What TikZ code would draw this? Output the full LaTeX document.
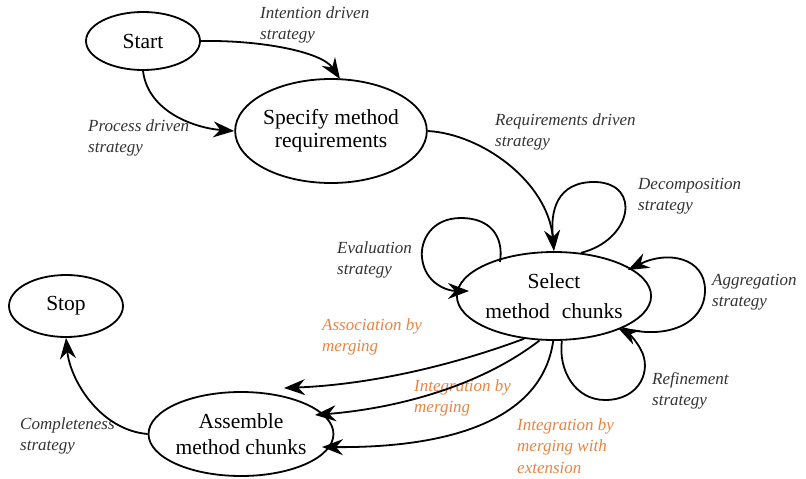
\documentclass[tikz,border=0pt]{standalone}
\usepackage{fontspec}
\setmainfont{Liberation Serif}
\usetikzlibrary{arrows.meta,shapes.geometric}
\definecolor{stratorange}{RGB}{232,132,66}
\tikzset{
  state/.style={draw,ellipse,line width=1.8pt,inner sep=0pt,align=center,
    font=\fontsize{21.5}{23}\selectfont},
  strat/.style={anchor=west,inner sep=0pt,align=left,text=black!80,
    font=\fontsize{17}{21.5}\selectfont\itshape},
  ostrat/.style={strat,text=stratorange},
  flow/.style={line width=1.8pt,-{Stealth[length=21pt,width=16pt,inset=7pt]}},
  plain/.style={line width=1.8pt}
}
\begin{document}
\begin{tikzpicture}[x=1pt,y=-1pt]
\useasboundingbox (0,0) rectangle (806,479);

% intentions
\node[state,minimum width=114pt,minimum height=58pt] (start) at (143,41) {Start};
\node[state,minimum width=174pt,minimum height=104pt] (spec) at (331,131) {Specify method\\requirements};
\node[state,minimum width=172pt,minimum height=88pt,font=\fontsize{21.5}{30}\selectfont] (sel) at (554,296) {Select\\method\;\;chunks};
\node[state,minimum width=114pt,minimum height=62pt] (stop) at (66,306) {Stop};
\node[state,minimum width=167pt,minimum height=84pt,font=\fontsize{21.5}{26}\selectfont] (asm) at (241,434) {Assemble\\method chunks};

% strategy labels
\node[strat] (lint) at (260,25) {Intention driven\\strategy};
\node[strat] (lproc) at (88,138) {Process driven\\strategy};
\node[strat] (lreq) at (495,132) {Requirements driven\\strategy};
\node[strat] (ldec) at (638,196) {Decomposition\\strategy};
\node[strat] (leval) at (337,260) {Evaluation\\strategy};
\node[strat] (lagg) at (712,292) {Aggregation\\strategy};
\node[strat] (lref) at (652,391) {Refinement\\strategy};
\node[strat] (lcomp) at (20,436) {Completeness\\strategy};
\node[ostrat] (lass) at (322,337) {Association by\\merging};
\node[ostrat] (lintm) at (414,398) {Integration by\\merging};
\node[ostrat] (lext) at (517,446) {Integration by\\merging with\\extension};

% free end of the association arrow
\coordinate (assend) at (284,388);
% entry points on the intentions
\coordinate (specin) at (340,79);
\coordinate (evalin) at (469,291);
\coordinate (evalout) at (500,262);
\coordinate (asmin) at (315,415);
\coordinate (asmext) at (322,447);

% sections between intentions
\draw[flow] (start.east) .. controls (262,40) and (322,52) .. (specin);
\draw[flow] (start.south) .. controls (148,112) and (195,128) .. (spec.west);
\draw[flow] (spec.east) .. controls (482,134) and (548,182) .. (sel.north);
\draw[flow] (sel.235) .. controls (440,370) and (360,385) .. (assend);
\draw[flow] (sel.252) .. controls (482,385) and (400,408) .. (asmin);
\draw[flow] (sel.269) .. controls (542,420) and (450,448) .. (asmext);
\draw[flow] (asm.west) .. controls (100,430) and (70,380) .. (stop.south);

% loops on Select method chunks
\draw[plain] (sel.58) .. controls (632,240) and (642,184) .. (596,182)
  .. controls (556,181) and (550,212) .. (553,238);
\draw[flow] (evalout) .. controls (504,236) and (490,218) .. (461,218)
  .. controls (432,218) and (420,240) .. (422,258)
  .. controls (425,284) and (448,291) .. (evalin);
\draw[flow] (sel.-25) .. controls (665,340) and (705,325) .. (705,290)
  .. controls (705,258) and (668,250) .. (628,270);
\draw[flow] (sel.-80) .. controls (558,370) and (575,400) .. (605,400)
  .. controls (640,400) and (652,370) .. (641,350)
  .. controls (636,340) and (628,333) .. (618,328);
\end{tikzpicture}
\end{document}
